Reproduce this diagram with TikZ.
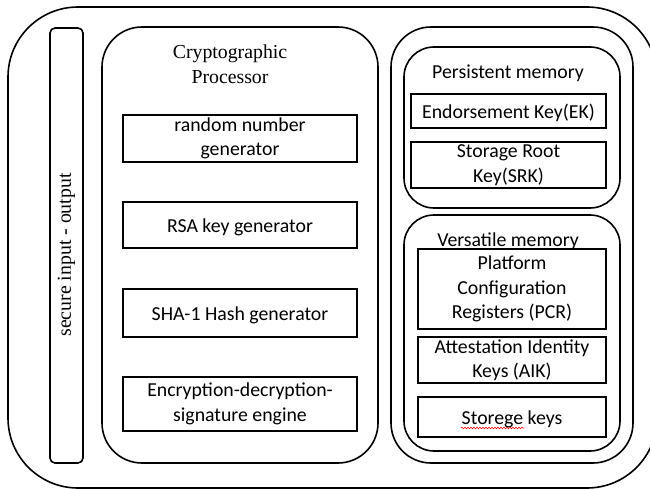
\documentclass[tikz,border=0pt]{standalone}
\usepackage{fontspec}
\setmainfont{Liberation Serif}
\newfontfamily\carlito{Carlito}
\usetikzlibrary{decorations.pathmorphing}
\tikzset{
  frame/.style={draw, line width=1.6pt, rectangle, inner sep=0pt},
  cell/.style={draw, line width=1.6pt, rectangle, inner sep=0pt, align=center,
    font=\carlito\fontsize{19.8}{24.5}\selectfont,
    execute at begin node={\rule{0pt}{17.5pt}}},
  title/.style={align=center, inner sep=0pt},
  sanstitle/.style={title, font=\carlito\fontsize{19.8}{24.5}\selectfont},
  seriftitle/.style={title, font=\fontsize{19.8}{25}\selectfont},
}
\begin{document}
\begin{tikzpicture}[x=1pt,y=-1pt]
\useasboundingbox (0,0) rectangle (650,489);
\clip (0,0) rectangle (650,489);
\fill[white] (0,0) rectangle (650,489);
% outer
\node[frame, rounded corners=70pt, minimum width=649pt, minimum height=481pt] (outer) at (332.5,247.5) {};
% secure io
\node[frame, rounded corners=5pt, minimum width=33pt, minimum height=435pt] (sio) at (66.5,245.5) {};
\node[seriftitle, rotate=90] (siotext) at (66.5,255) {secure input - output};
% crypto processor
\node[frame, rounded corners=40pt, minimum width=276pt, minimum height=436pt] (cp) at (240,245) {};
\node[seriftitle] (cptitle) at (230,64) {Cryptographic\\Processor};
\node[cell, minimum width=234pt, minimum height=47pt] (rng) at (240,138.5) {random number\\generator};
\node[cell, minimum width=234pt, minimum height=46pt] (rsa) at (240,225) {RSA key generator};
\node[cell, minimum width=234pt, minimum height=48pt] (sha) at (240,313) {SHA-1 Hash generator};
\node[cell, minimum width=234pt, minimum height=54pt] (enc) at (240,404) {Encryption-decryption-\\signature engine};
% memory container
\node[frame, rounded corners=40pt, minimum width=242pt, minimum height=436pt] (mem) at (512,245) {};
% persistent
\node[frame, rounded corners=30pt, minimum width=216pt, minimum height=161pt] (pm) at (512,127.5) {};
\node[sanstitle] (pmtitle) at (508,73) {Persistent memory};
\node[cell, minimum width=195pt, minimum height=34pt] (ek) at (508.5,111) {Endorsement Key(EK)};
\node[cell, minimum width=195pt, minimum height=46pt] (srk) at (508.5,165) {Storage Root\\Key(SRK)};
% versatile
\node[frame, rounded corners=30pt, minimum width=216pt, minimum height=236pt] (vm) at (512,333) {};
\node[sanstitle] (vmtitle) at (508,241) {Versatile memory};
\node[cell, minimum width=188pt, minimum height=80pt] (pcr) at (512,289) {Platform\\Configuration\\Registers (PCR)};
\node[cell, minimum width=188pt, minimum height=46pt] (aik) at (512,360) {Attestation Identity\\Keys (AIK)};
\node[cell, minimum width=188pt, minimum height=40pt] (stor) at (512,417) {Storege keys};
\draw[red, line width=0.6pt, decorate, decoration={snake, segment length=3pt, amplitude=0.8pt}] (461,428) -- (524,428);
\end{tikzpicture}
\end{document}
